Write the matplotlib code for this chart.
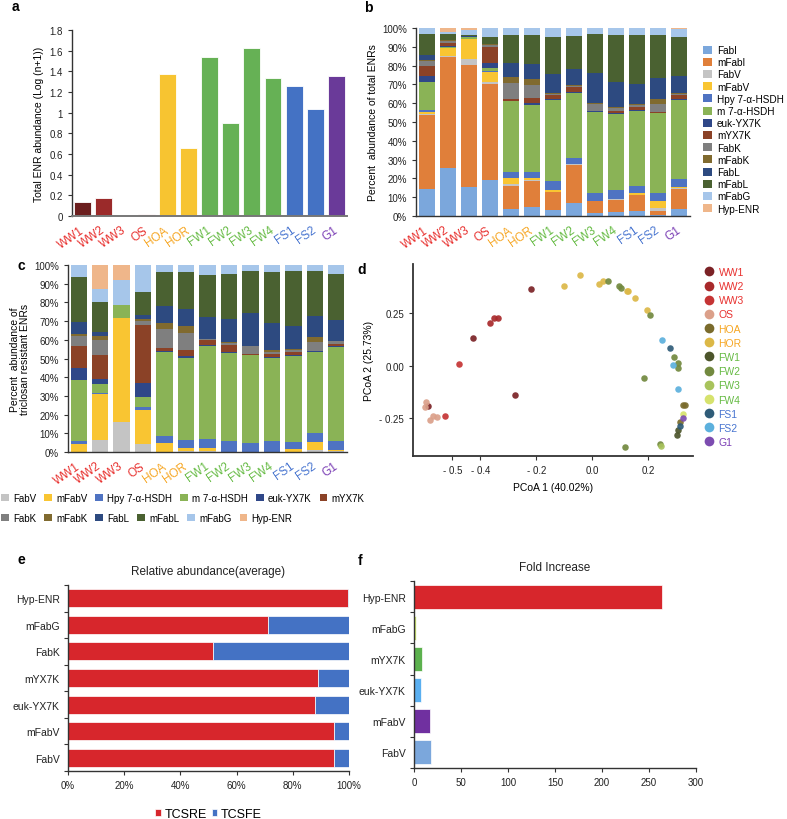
import matplotlib
matplotlib.use('Agg')
import matplotlib.pyplot as plt
import matplotlib.transforms as mtransforms
from matplotlib.patches import Patch
from matplotlib.lines import Line2D
import numpy as np

plt.rcParams['font.family'] = ['Liberation Sans', 'DejaVu Sans']

W, H = 787, 820

# ---- data -------------------------------------------------------------
sites = ['WW1', 'WW2', 'WW3', 'OS', 'HOA', 'HOR', 'FW1', 'FW2', 'FW3', 'FW4', 'FS1', 'FS2', 'G1']
site_text_colors = ['#e8312f'] * 4 + ['#f6a623'] * 2 + ['#66bb44'] * 4 + ['#4875d0'] * 2 + ['#7b3fb5']

# panel a
total_abundance = [0.14, 0.175, 0.01, 0.015, 1.37, 0.66, 1.54, 0.90, 1.63, 1.335, 1.255, 1.04, 1.355]
abundance_colors = ['#6b1e1e', '#9b2a2a', '#c0392b', '#e9a3a3', '#f7c431', '#f7c431',
                    '#66b155', '#66b155', '#66b155', '#66b155', '#4472c4', '#4472c4', '#6a3a99']

# panel b: percent of total ENRs (bottom to top)
tot_FabI = [14.5, 25.4, 15.2, 19.3, 3.7, 4.8, 3.2, 6.7, 1.8, 2.1, 2.5, 0.5, 3.7]
tot_mFabI = [39.4, 59.0, 65.3, 50.9, 12.4, 13.6, 9.5, 20.3, 6.2, 6.6, 8.5, 2.3, 10.7]
tot_FabV = [0.3, 0.9, 3.2, 1.3, 0.9, 0.7, 0.3, 0.4, 0.1, 0.2, 0.3, 1.3, 0.3]
tot_mFabV = [1.1, 3.9, 10.4, 5.3, 3.0, 1.1, 1.0, 0.1, 0.1, 0.2, 0.8, 3.9, 0.5]
tot_Hpy = [0.9, 0.3, 0.3, 0.5, 3.6, 3.4, 4.8, 3.4, 4.0, 4.7, 3.7, 4.1, 4.5]
tot_m7 = [15.3, 0.5, 1.0, 1.6, 37.4, 35.6, 42.9, 34.5, 43.3, 40.5, 40.2, 42.5, 42.0]
tot_euk = [2.8, 0.3, 0.1, 2.3, 0.3, 0.7, 0.7, 0.5, 0.1, 0.5, 0.4, 0.2, 0.6]
tot_mYX7K = [5.3, 1.8, 0.1, 8.9, 0.8, 2.9, 2.1, 2.9, 0.2, 0.9, 1.4, 0.5, 1.9]
tot_FabK = [3.0, 1.0, 0.1, 1.0, 8.5, 6.9, 0.6, 0.4, 4.0, 1.5, 1.5, 4.3, 0.8]
tot_mFabK = [0.4, 0.4, 0.1, 0.2, 3.2, 3.2, 0.3, 0.3, 0.3, 0.8, 0.3, 2.6, 0.2]
tot_FabL = [2.6, 0.3, 0.1, 0.2, 7.4, 8.0, 10.1, 8.9, 16.0, 13.3, 10.6, 11.2, 9.4]
tot_mFabL = [11.2, 2.8, 0.3, 3.9, 15.3, 15.4, 19.5, 17.5, 20.7, 25.0, 26.3, 23.1, 20.8]
tot_mFabG = [3.2, 1.4, 2.5, 4.6, 3.5, 3.7, 5.0, 4.1, 3.2, 3.7, 3.5, 3.5, 4.2]
tot_Hyp = [0.0, 2.0, 1.3, 0.0, 0.0, 0.0, 0.0, 0.0, 0.0, 0.0, 0.0, 0.0, 0.4]

# panel c: percent of triclosan resistant ENRs (bottom to top)
res_FabV = [0.2, 6.4, 15.9, 4.3, 0.1, 0.3, 0.3, 0.0, 0.0, 0.0, 0.2, 1.1, 0.3]
res_mFabV = [3.9, 24.8, 55.6, 18.2, 4.5, 1.8, 1.7, 0.1, 0.1, 0.1, 1.4, 4.4, 0.6]
res_Hpy = [1.8, 0.3, 0.0, 1.7, 4.1, 4.3, 5.0, 6.0, 4.7, 6.0, 3.9, 4.5, 5.2]
res_m7 = [32.8, 4.7, 7.3, 5.0, 45.0, 43.7, 49.5, 46.8, 47.1, 44.2, 45.7, 43.7, 49.9]
res_euk = [6.2, 2.8, 0.0, 7.5, 0.5, 1.1, 0.6, 0.8, 0.2, 0.6, 0.7, 0.2, 0.5]
res_mYX7K = [11.6, 13.0, 0.0, 31.2, 1.2, 3.5, 2.6, 3.5, 0.3, 1.5, 1.8, 0.3, 1.3]
res_FabK = [5.7, 8.1, 0.0, 2.4, 10.4, 8.9, 0.6, 1.0, 4.2, 1.2, 1.0, 4.8, 1.4]
res_mFabK = [0.9, 2.1, 0.0, 0.8, 3.2, 3.6, 0.3, 0.8, 0.3, 1.1, 0.4, 2.3, 0.3]
res_FabL = [6.6, 2.1, 0.0, 2.3, 9.3, 9.3, 11.5, 12.1, 17.4, 14.3, 12.5, 11.6, 11.1]
res_mFabL = [24.1, 15.7, 0.0, 12.0, 18.1, 19.6, 22.3, 24.1, 22.7, 27.4, 29.0, 24.1, 24.6]
res_mFabG = [6.2, 7.2, 13.2, 14.6, 3.6, 3.9, 5.6, 4.8, 3.0, 3.6, 3.4, 3.0, 4.8]
res_Hyp = [0.0, 12.8, 8.0, 0.0, 0.0, 0.0, 0.0, 0.0, 0.0, 0.0, 0.0, 0.0, 0.0]

gene_colors = {
    'FabI': '#7ba7dc', 'mFabI': '#e07f3a', 'FabV': '#c4c4c4', 'mFabV': '#f9c532',
    'Hpy 7-α-HSDH': '#4f73c2', 'm 7-α-HSDH': '#8ab356', 'euk-YX7K': '#2f4788',
    'mYX7K': '#8b4227', 'FabK': '#7f7f7f', 'mFabK': '#806a2f', 'FabL': '#2d4a80',
    'mFabL': '#4a6131', 'mFabG': '#a6c6ea', 'Hyp-ENR': '#efb68a',
}
total_stack = [('FabI', tot_FabI), ('mFabI', tot_mFabI), ('FabV', tot_FabV), ('mFabV', tot_mFabV),
               ('Hpy 7-α-HSDH', tot_Hpy), ('m 7-α-HSDH', tot_m7), ('euk-YX7K', tot_euk),
               ('mYX7K', tot_mYX7K), ('FabK', tot_FabK), ('mFabK', tot_mFabK), ('FabL', tot_FabL),
               ('mFabL', tot_mFabL), ('mFabG', tot_mFabG), ('Hyp-ENR', tot_Hyp)]
resistant_stack = [('FabV', res_FabV), ('mFabV', res_mFabV), ('Hpy 7-α-HSDH', res_Hpy),
                   ('m 7-α-HSDH', res_m7), ('euk-YX7K', res_euk), ('mYX7K', res_mYX7K),
                   ('FabK', res_FabK), ('mFabK', res_mFabK), ('FabL', res_FabL),
                   ('mFabL', res_mFabL), ('mFabG', res_mFabG), ('Hyp-ENR', res_Hyp)]

# panel d: PCoA coordinates per group
pcoa_groups = ['WW1', 'WW2', 'WW3', 'OS', 'HOA', 'HOR', 'FW1', 'FW2', 'FW3', 'FW4', 'FS1', 'FS2', 'G1']
pcoa_colors = ['#7b2226', '#a8292b', '#c53434', '#dba08a', '#7a6b2c', '#dcb847', '#4c552b',
               '#72893f', '#a8c35c', '#d6e26d', '#2f5c78', '#5cb0dd', '#7c4cb0']
pcoa1 = {
    'WW1': [-0.219, -0.426, -0.274, -0.588],
    'WW2': [-0.364, -0.352, -0.335],
    'WW3': [-0.474, -0.524],
    'OS': [-0.594, -0.596, -0.579, -0.570, -0.555],
    'HOA': [0.326, 0.330, 0.314],
    'HOR': [-0.100, -0.043, 0.024, 0.037, 0.124, 0.128, 0.154, 0.196],
    'FW1': [0.308, 0.302],
    'FW2': [0.058, 0.094, 0.103, 0.207, 0.293, 0.305, 0.308, 0.186, 0.118, 0.243],
    'FW3': [0.245],
    'FW4': [0.324],
    'FS1': [0.279, 0.314],
    'FS2': [0.249, 0.290, 0.305],
    'G1': [0.326],
}
pcoa2 = {
    'WW1': [0.365, 0.132, -0.141, -0.192],
    'WW2': [0.203, 0.227, 0.227],
    'WW3': [0.008, -0.240],
    'OS': [-0.170, -0.194, -0.256, -0.237, -0.244],
    'HOA': [-0.189, -0.189, -0.268],
    'HOR': [0.380, 0.432, 0.392, 0.406, 0.356, 0.356, 0.325, 0.268],
    'FW1': [-0.308, -0.332],
    'FW2': [0.406, 0.380, 0.371, 0.241, 0.040, 0.014, -0.010, -0.057, -0.387, -0.371],
    'FW3': [-0.382],
    'FW4': [-0.229],
    'FS1': [0.087, -0.288],
    'FS2': [0.124, 0.005, -0.108],
    'G1': [-0.248],
}

# panel e
e_genes = ['FabV', 'mFabV', 'euk-YX7K', 'mYX7K', 'FabK', 'mFabG', 'Hyp-ENR']
tcsre = [94.5, 94.5, 87.8, 89.0, 51.5, 71.0, 99.7]
tcsfe = [5.5, 5.5, 12.2, 11.0, 48.5, 29.0, 0.3]

# panel f
f_genes = ['FabV', 'mFabV', 'euk-YX7K', 'mYX7K', 'mFabG', 'Hyp-ENR']
fold_increase = [17.8, 17.0, 7.1, 8.2, 2.5, 264]
fold_colors = ['#7ba7dc', '#7030a0', '#5aaff0', '#5cb14e', '#c8e06a', '#d7262c']

SPINE = '#333333'


def axes_px(fig, left, top, right, bottom):
    return fig.add_axes([left / W, 1 - bottom / H, (right - left) / W, (bottom - top) / H])


def style_axes(ax):
    for side in ('top', 'right'):
        ax.spines[side].set_visible(False)
    for side in ('left', 'bottom'):
        ax.spines[side].set_color(SPINE)
        ax.spines[side].set_linewidth(1.0)
    ax.tick_params(colors=SPINE, labelcolor='#222222', labelsize=7, length=3, width=0.8)


def site_labels(ax):
    x = np.arange(len(sites))
    ax.set_xticks(x)
    ax.set_xticklabels(sites, rotation=35, ha='right', va='center', rotation_mode='anchor', fontsize=8.5)
    shift = mtransforms.ScaledTranslation(5 / 100, -2 / 100, fig.dpi_scale_trans)
    for lab, c in zip(ax.get_xticklabels(), site_text_colors):
        lab.set_color(c)
        lab.set_transform(lab.get_transform() + shift)
    ax.tick_params(axis='x', length=0, pad=9)


def stacked(ax, stack, width):
    x = np.arange(len(sites))
    bottom = np.zeros(len(sites))
    for name, vals in stack:
        vals = np.array(vals)
        ax.bar(x, vals, bottom=bottom, width=width, color=gene_colors[name], linewidth=0)
        bottom += vals
    ax.set_xlim(-0.5, len(sites) - 0.5)
    ax.set_ylim(0, 100)
    ax.set_yticks(np.arange(0, 101, 10))
    ax.set_yticklabels([f'{v}%' for v in range(0, 101, 10)])


fig = plt.figure(figsize=(W / 100, H / 100), dpi=100)

# ---- a ----
ax = axes_px(fig, 72, 31, 347, 217)
style_axes(ax)
ax.bar(np.arange(len(sites)), total_abundance, width=0.8, color=abundance_colors,
       edgecolor='white', linewidth=0.6)
ax.set_xlim(-0.5, len(sites) - 0.5)
ax.set_ylim(0, 1.8)
yt = np.round(np.arange(0, 1.81, 0.2), 1)
ax.set_yticks(yt)
ax.set_yticklabels([f'{v:g}' for v in yt])
ax.spines['bottom'].set_color('#777777')
ax.spines['bottom'].set_linewidth(1.4)
site_labels(ax)
ax.set_ylabel('Total ENR abundance (Log (n+1))', fontsize=7.5, labelpad=4)

# ---- b ----
ax = axes_px(fig, 416, 29, 690, 217)
style_axes(ax)
stacked(ax, total_stack, 0.76)
site_labels(ax)
ax.set_ylabel('Percent  abundance of total ENRs', fontsize=7.5, labelpad=3)
handles = [Patch(facecolor=gene_colors[n], label=n) for n, _ in total_stack]
fig.legend(handles=handles, loc='upper left', bbox_to_anchor=(703 / W, 1 - 46 / H),
           frameon=False, fontsize=7.2, handlelength=0.85, handleheight=0.85,
           handletextpad=0.55, labelspacing=0.22, borderaxespad=0, borderpad=0)

# ---- c ----
ax = axes_px(fig, 68, 266, 347, 453)
style_axes(ax)
stacked(ax, resistant_stack, 0.76)
site_labels(ax)
ax.set_ylabel('Percent  abundance of\ntriclosan resistant ENRs', fontsize=7.5, labelpad=3,
              linespacing=1.0)
row1 = [Patch(facecolor=gene_colors[n], label=n) for n, _ in resistant_stack[:6]]
row2 = [Patch(facecolor=gene_colors[n], label=n) for n, _ in resistant_stack[6:]]
for row, ytop in ((row1, 494), (row2, 514)):
    fig.legend(handles=row, loc='upper left', bbox_to_anchor=(1 / W, 1 - ytop / H), ncol=6,
               frameon=False, fontsize=7.0, handlelength=0.8, handleheight=0.8,
               handletextpad=0.45, columnspacing=0.8, borderaxespad=0, borderpad=0)

# ---- d ----
ax = axes_px(fig, 413, 265, 693, 457)
style_axes(ax)
for g, c in zip(pcoa_groups, pcoa_colors):
    ax.scatter(pcoa1[g], pcoa2[g], s=22, color=c, alpha=0.92, linewidths=0, zorder=3)
ax.set_xlim(-0.64, 0.36)
ax.set_ylim(-0.43, 0.486)
ax.spines['left'].set_linewidth(1.3)
ax.spines['bottom'].set_linewidth(1.3)
ax.set_xticks([-0.5, -0.4, -0.2, 0.0, 0.2])
ax.set_xticklabels(['- 0.5', '- 0.4', '- 0.2', '0.0', '0.2'])
ax.set_yticks([-0.25, 0.0, 0.25])
ax.set_yticklabels(['- 0.25', '0.00', '0.25'])
ax.set_xlabel('PCoA 1 (40.02%)', fontsize=7.5, labelpad=5)
ax.set_ylabel('PCoA 2 (25.73%)', fontsize=7.5, labelpad=4)
handles = [Line2D([], [], marker='o', linestyle='none', markersize=7, markerfacecolor=c,
                  markeredgewidth=0, label=g) for g, c in zip(pcoa_groups, pcoa_colors)]
fig.legend(handles=handles, loc='upper left', bbox_to_anchor=(705 / W, 1 - 268 / H),
           frameon=False, fontsize=7.5, handlelength=0.8, handletextpad=0.5,
           labelspacing=0.40, borderaxespad=0, borderpad=0, labelcolor=site_text_colors)

# ---- e ----
ax = axes_px(fig, 68, 586, 349, 772)
style_axes(ax)
y = np.arange(len(e_genes))
ax.barh(y, tcsre, height=0.68, color='#d7262c', edgecolor='white', linewidth=0.5, label='TCSRE')
ax.barh(y, tcsfe, left=tcsre, height=0.68, color='#4472c4', edgecolor='white', linewidth=0.5,
        label='TCSFE')
ax.set_ylim(-0.5, len(e_genes) - 0.5)
ax.set_xlim(0, 100)
ax.set_xticks(np.arange(0, 101, 20))
ax.set_xticklabels([f'{v}%' for v in range(0, 101, 20)])
ax.set_yticks(y)
ax.set_yticklabels(e_genes, fontsize=7.5)
ax.set_yticks(np.arange(-0.5, len(e_genes)), minor=True)
ax.tick_params(axis='y', which='major', length=0, pad=6)
ax.tick_params(axis='y', which='minor', length=3, width=0.8, color=SPINE)
ax.set_title('Relative abundance(average)', fontsize=8.5, color='#222222', pad=8)
ax.legend(loc='upper center', bbox_to_anchor=(0.5, -0.14), ncol=2, frameon=False, fontsize=9,
          handlelength=0.45, handleheight=0.45, handletextpad=0.3, columnspacing=0.4)

# ---- f ----
ax = axes_px(fig, 414, 582, 696, 769)
style_axes(ax)
y = np.arange(len(f_genes))
ax.barh(y, fold_increase, height=0.77, color=fold_colors, edgecolor='white', linewidth=0.5)
ax.set_ylim(-0.5, len(f_genes) - 0.5)
ax.set_xlim(0, 300)
ax.set_xticks(np.arange(0, 301, 50))
ax.set_yticks(y)
ax.set_yticklabels(f_genes, fontsize=7.5)
ax.set_yticks(np.arange(-0.5, len(f_genes)), minor=True)
ax.tick_params(axis='y', which='major', length=0, pad=6)
ax.tick_params(axis='y', which='minor', length=3, width=0.8, color=SPINE)
ax.set_title('Fold Increase', fontsize=8.5, color='#222222', pad=8)

# panel letters
for letter, px, py in (('a', 15, 7), ('b', 368, 8), ('c', 21, 266), ('d', 362, 270),
                       ('e', 21, 560), ('f', 360, 561)):
    fig.text(px / W, 1 - py / H, letter, fontsize=10, fontweight='bold', ha='center', va='center')

fig.savefig('out.png', dpi=100)
